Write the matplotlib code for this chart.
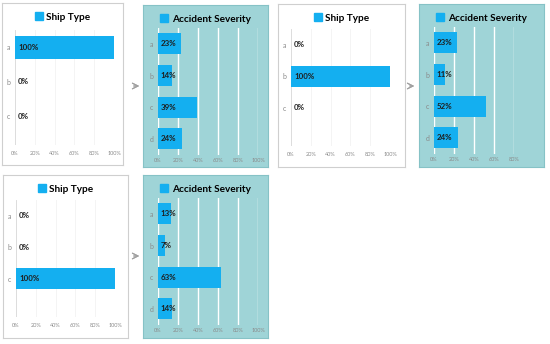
import matplotlib.pyplot as plt
from matplotlib.patches import Patch

# data
ship_cats = ["a", "b", "c"]
sev_cats = ["a", "b", "c", "d"]
ship_1 = [100, 0, 0]
sev_1 = [23, 14, 39, 24]
ship_2 = [0, 100, 0]
sev_2 = [23, 11, 52, 24]
ship_3 = [0, 0, 100]
sev_3 = [13, 7, 63, 14]

W, H = 550, 344
BLUE = "#14aff0"
TEAL = "#9fd4d7"
TXT = "#1e1e1e"
GRAYTXT = "#8a8a8a"
FONT = "Lato"

fig = plt.figure(figsize=(W / 100, H / 100), dpi=100)
fig.patch.set_facecolor("white")


def px_axes(x0, y0, x1, y1):
    return fig.add_axes([x0 / W, 1 - y1 / H, (x1 - x0) / W, (y1 - y0) / H])


def panel(box, cats, vals, title, teal=False, xmax=100, top=None, unit=None):
    x0, y0, x1, y1 = box
    bg = px_axes(x0, y0, x1, y1)
    bg.set_xticks([])
    bg.set_yticks([])
    bg.set_facecolor(TEAL if teal else "white")
    for s in bg.spines.values():
        s.set_color("#86c2c6" if teal else "#cfcfcf")
        s.set_linewidth(0.8)
    bg.legend(handles=[Patch(color=BLUE, label=title)], loc="center",
              bbox_to_anchor=(0.5, 1 - 14 / (y1 - y0)), frameon=False,
              handlelength=0.8, handleheight=0.8, handletextpad=0.35,
              borderpad=0, prop={"family": FONT, "weight": "bold", "size": 7.2})

    if teal:
        left, width, bottom = 15, xmax, 150
        top = top or 23
        unit = unit or 31.7
        pad = 2.5
    else:
        left, width, bottom = 13, 99, 142
        top = top or 25
        unit = unit or 31.5
        pad = 4
    ax = px_axes(x0 + left, y0 + top, x0 + left + width, y0 + bottom)
    ax.set_facecolor("none")
    n = len(cats)
    ax.set_ylim((bottom - top) / unit - 0.5, -0.5)
    ax.set_xlim(0, xmax)
    ax.barh(range(n), vals, height=0.66, color=BLUE, zorder=3)
    ax.set_yticks(range(n), labels=cats)
    ticks = list(range(0, xmax + 1, 20))
    ax.set_xticks(ticks, labels=[f"{t}%" for t in ticks])
    ax.tick_params(axis="x", length=0, labelsize=4, labelcolor=GRAYTXT, pad=pad)
    ax.tick_params(axis="y", length=0, labelsize=5, labelcolor=GRAYTXT, pad=3.5)
    for lab in ax.get_xticklabels() + ax.get_yticklabels():
        lab.set_family(FONT)
    ax.grid(axis="x", color="white" if teal else "#f2f2f2", lw=1.0 if teal else 0.6, zorder=1)
    for s in ax.spines.values():
        s.set_visible(False)
    if not teal:
        ax.axvline(0, color="#d9d9d9", lw=0.6, zorder=2)
    for i, v in enumerate(vals):
        ax.text(2.5 if teal else 3, i, f"{v}%", ha="left", va="center",
                fontsize=5.7, fontweight="bold", family=FONT, color=TXT, zorder=4)
    return ax


panel((2, 3, 123, 165), ship_cats, ship_1, "Ship Type", top=27, unit=34.5)
panel((143, 5, 268, 167), sev_cats, sev_1, "Accident Severity", teal=True)
panel((278, 4, 405, 167), ship_cats, ship_2, "Ship Type")
panel((419, 4, 544, 167), sev_cats, sev_2, "Accident Severity", teal=True, xmax=80)
panel((3, 175, 128, 338), ship_cats, ship_3, "Ship Type")
panel((143, 175, 268, 338), sev_cats, sev_3, "Accident Severity", teal=True)

# arrows between panels
for ax0, ax1, ay in [(131, 142, 86), (407, 417, 86), (131, 142, 256)]:
    fig.add_artist(plt.annotate("", xy=(ax1 / W, 1 - ay / H), xytext=(ax0 / W, 1 - ay / H),
                                xycoords="figure fraction",
                                arrowprops=dict(arrowstyle="->", color="#a0a0a0", lw=0.8)))

fig.savefig("out.png", dpi=100)
